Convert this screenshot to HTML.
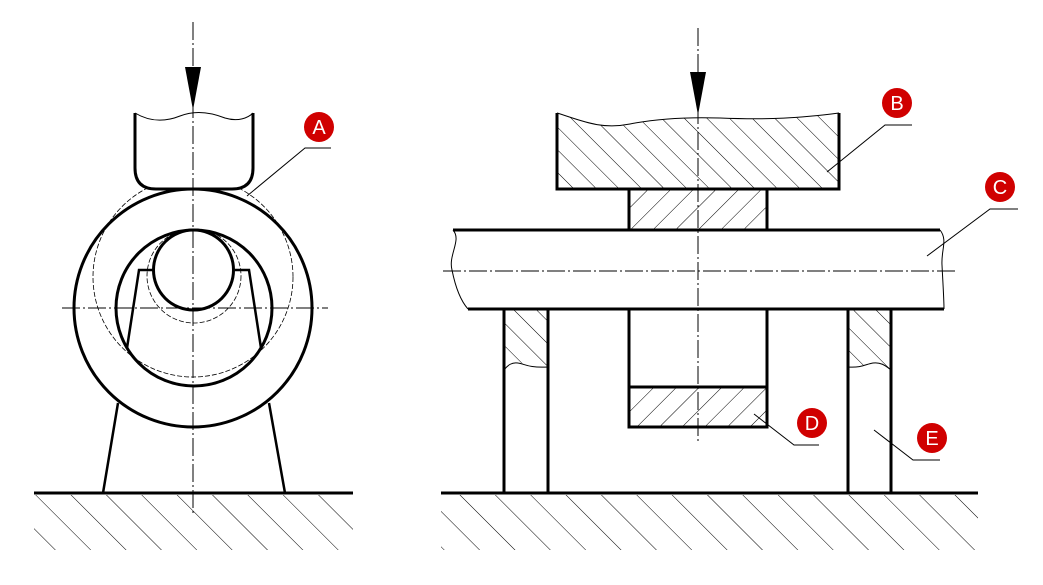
<!DOCTYPE html>
<html><head><meta charset="utf-8"><style>
html,body{margin:0;padding:0;background:#fff}
svg{display:block}
text{font-family:"Liberation Sans",sans-serif;font-size:20px;fill:#fff;text-anchor:middle}
</style></head><body>
<svg width="1043" height="585" viewBox="0 0 1043 585" xmlns="http://www.w3.org/2000/svg">
<defs>
<pattern id="hb" patternUnits="userSpaceOnUse" width="16" height="16" patternTransform="rotate(-45)">
<line x1="0" y1="0" x2="0" y2="16" stroke="#000" stroke-width="1"/></pattern>
<pattern id="hf" patternUnits="userSpaceOnUse" width="16" height="16" patternTransform="rotate(45)">
<line x1="0" y1="0" x2="0" y2="16" stroke="#000" stroke-width="1"/></pattern>
<pattern id="hg" patternUnits="userSpaceOnUse" width="25" height="25" patternTransform="rotate(-45)">
<line x1="0" y1="0" x2="0" y2="25" stroke="#000" stroke-width="1"/></pattern>
</defs>
<g fill="none" stroke="#000">
<rect x="34" y="495" width="319" height="55" fill="url(#hg)" stroke="none"/>
<rect x="441" y="495" width="537" height="55" fill="url(#hg)" stroke="none"/>
<line x1="34" y1="493" x2="353" y2="493" stroke-width="3"/>
<line x1="441" y1="493" x2="978" y2="493" stroke-width="3"/>

<!-- LEFT VIEW -->
<circle cx="193" cy="277" r="100" stroke-width="0.8" stroke-dasharray="5,2"/>
<circle cx="194" cy="276" r="47" stroke-width="0.8" stroke-dasharray="5,2"/>
<path d="M118 403 L103 493 M269 403 L285 493" stroke-width="2.5"/>
<circle cx="193" cy="308" r="119" stroke-width="3" fill="none"/>
<circle cx="194" cy="308" r="78" stroke-width="3"/>
<path d="M127 348 L139 270 L153 270 M235 270 L249 270 L261 348" stroke-width="2.5"/>
<circle cx="193.5" cy="270" r="40" stroke-width="3" fill="#fff"/>
<path d="M135 113 L135 168 Q135 189 156 189 L232 189 Q253 189 253 168 L253 113" stroke-width="3" fill="#fff"/>
<path d="M135 113 C150 122 165 122 180 116 C195 110 210 112 225 118 C238 122 248 118 253 113" stroke-width="1"/>
<line x1="62" y1="308" x2="328" y2="308" stroke-width="1" stroke-dasharray="18,3,2,3"/>
<line x1="193" y1="22" x2="193" y2="515" stroke-width="1" stroke-dasharray="18,3,2,3"/>
<polygon points="185,67 201,67 193,110" fill="#000" stroke="none"/>
<polyline points="247,196 305,148 331,148" stroke-width="1"/>

<!-- RIGHT VIEW -->
<path d="M557 113 C580 120 600 130 630 124 C660 118 690 117 720 118 C770 120 800 118 839 113 L839 189 L557 189 Z" fill="url(#hb)" stroke="none"/>
<path d="M557 113 L557 189 L839 189 L839 113" stroke-width="3"/>
<path d="M557 113 C580 120 600 130 630 124 C660 118 690 117 720 118 C770 120 800 118 839 113" stroke-width="1"/>
<rect x="629" y="189" width="138" height="41" fill="url(#hf)" stroke-width="3"/>
<line x1="453" y1="230" x2="940" y2="230" stroke-width="3"/>
<line x1="468" y1="309" x2="944" y2="309" stroke-width="3"/>
<path d="M453 230 C462 240 448 255 452 270 C455 285 460 300 468 309" stroke-width="1"/>
<path d="M940 230 C948 240 941 250 942 265 C943 285 944 300 944 309" stroke-width="1"/>
<line x1="443" y1="271" x2="956" y2="271" stroke-width="1" stroke-dasharray="18,3,2,3"/>
<path d="M504 309 L548 309 L548 367 L533 368 C525 365 520 360 512 363 C508 365 506 368 504 370 Z" fill="url(#hb)" stroke="none"/>
<path d="M504 370 C508 365 512 362 518 363 C525 364 528 368 548 367" stroke-width="1"/>
<path d="M848 309 L891 309 L891 370 C885 365 880 362 873 363 C866 364 862 368 848 367 Z" fill="url(#hb)" stroke="none"/>
<path d="M848 367 C862 368 866 364 873 363 C880 362 885 365 891 370" stroke-width="1"/>
<path d="M504 309 L504 493 M548 309 L548 493 M848 309 L848 493 M891 309 L891 493" stroke-width="3"/>
<path d="M629 309 L629 427 M767 309 L767 427" stroke-width="3"/>
<rect x="629" y="387" width="138" height="40" fill="url(#hf)" stroke-width="3"/>
<line x1="698" y1="28" x2="698" y2="442" stroke-width="1" stroke-dasharray="18,3,2,3"/>
<polygon points="690,72 706,72 698,115" fill="#000" stroke="none"/>
<polyline points="827,172 885,125 912,125" stroke-width="1"/>
<polyline points="927,256 990,209 1018,209" stroke-width="1"/>
<polyline points="754,414 794,445 819,445" stroke-width="1"/>
<polyline points="874,430 913,460 940,460" stroke-width="1"/>
</g>
<g fill="#d00000">
<circle cx="319" cy="127" r="15"/>
<circle cx="897" cy="103" r="15"/>
<circle cx="1000" cy="187" r="15"/>
<circle cx="812" cy="423" r="15"/>
<circle cx="932" cy="438" r="15"/>
</g>
<text x="319" y="134">A</text>
<text x="897" y="110">B</text>
<text x="1000" y="194">C</text>
<text x="812" y="430">D</text>
<text x="932" y="445">E</text>
</svg>
</body></html>
